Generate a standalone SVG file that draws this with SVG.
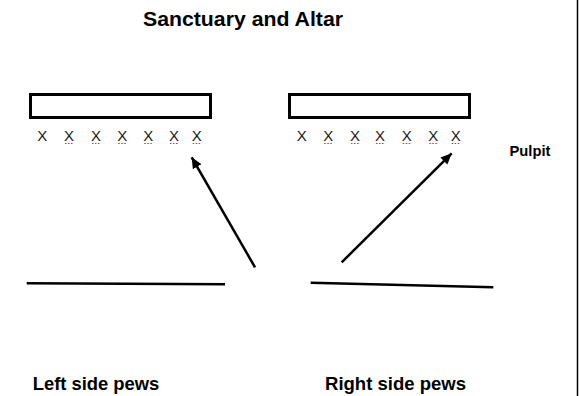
<svg xmlns="http://www.w3.org/2000/svg" width="579" height="396" viewBox="0 0 579 396">
<style>
  .bold { font-family: "Liberation Sans", Arial, sans-serif; font-weight: bold; fill: #000; }
  .x { font-family: "Liberation Sans", Arial, sans-serif; font-size: 15px; fill: #1a1a1a; text-anchor: middle; }
  .box { fill: #fff; stroke: #000; stroke-width: 3; }
  .line { stroke: #000; stroke-width: 2.5; fill: none; stroke-linecap: butt; }
  .spell { stroke: #e03030; stroke-width: 1; stroke-dasharray: 1.5 1.5; }
</style>
<defs>
  <marker id="arrow" markerWidth="12" markerHeight="12" refX="11" refY="6" orient="auto" markerUnits="userSpaceOnUse">
    <path d="M0,1 L11,6 L0,11 Z" fill="#000"/>
  </marker>
</defs>
<rect width="579" height="396" fill="#fff"/>
<line x1="577.5" y1="0" x2="577.5" y2="396" stroke="#000" stroke-width="1.5"/>

<text id="title" class="bold" x="143" y="26" font-size="21" textLength="200" lengthAdjust="spacingAndGlyphs">Sanctuary and Altar</text>

<g id="left-altar">
  <rect class="box" x="30.5" y="94.5" width="180" height="23"/>
  <text class="x" x="42.3" y="141">X</text>
  <text class="x" x="69" y="141">X</text>
  <text class="x" x="96" y="141">X</text>
  <text class="x" x="122.3" y="141">X</text>
  <text class="x" x="148.3" y="141">X</text>
  <text class="x" x="174" y="141">X</text>
  <text class="x" x="196.7" y="141">X</text>
  <g class="spell">
    <line x1="65" y1="143.5" x2="73" y2="143.5"/>
    <line x1="92" y1="143.5" x2="100" y2="143.5"/>
    <line x1="118.3" y1="143.5" x2="126.3" y2="143.5"/>
    <line x1="144.3" y1="143.5" x2="152.3" y2="143.5"/>
    <line x1="170" y1="143.5" x2="178" y2="143.5"/>
    <line x1="192.7" y1="143.5" x2="200.7" y2="143.5"/>
  </g>
</g>

<g id="right-altar">
  <rect class="box" x="289.5" y="94.5" width="180" height="23"/>
  <text class="x" x="301.7" y="141">X</text>
  <text class="x" x="328.3" y="141">X</text>
  <text class="x" x="355" y="141">X</text>
  <text class="x" x="380" y="141">X</text>
  <text class="x" x="406.7" y="141">X</text>
  <text class="x" x="433.3" y="141">X</text>
  <text class="x" x="455.7" y="141">X</text>
  <g class="spell">
    <line x1="324.3" y1="143.5" x2="332.3" y2="143.5"/>
    <line x1="351" y1="143.5" x2="359" y2="143.5"/>
    <line x1="376" y1="143.5" x2="384" y2="143.5"/>
    <line x1="402.7" y1="143.5" x2="410.7" y2="143.5"/>
    <line x1="429.3" y1="143.5" x2="437.3" y2="143.5"/>
    <line x1="451.7" y1="143.5" x2="459.7" y2="143.5"/>
  </g>
</g>

<g id="pulpit">
  <text class="bold" x="509.5" y="156" font-size="15" textLength="41" lengthAdjust="spacingAndGlyphs">Pulpit</text>
</g>

<g id="left-pews">
  <line class="line" x1="26.7" y1="283.3" x2="225" y2="284.3"/>
  <text class="bold" x="32.7" y="390" font-size="18.5" textLength="126.6" lengthAdjust="spacingAndGlyphs">Left side pews</text>
</g>

<g id="right-pews">
  <line class="line" x1="310.7" y1="282.7" x2="493.3" y2="287.3"/>
  <text class="bold" x="325" y="390" font-size="18.5" textLength="141" lengthAdjust="spacingAndGlyphs">Right side pews</text>
</g>

<g id="connectors">
  <line class="line" x1="255" y1="267.3" x2="191.7" y2="157.3" marker-end="url(#arrow)"/>
  <line class="line" x1="341.7" y1="262.3" x2="451.7" y2="153.3" marker-end="url(#arrow)"/>
</g>
</svg>
